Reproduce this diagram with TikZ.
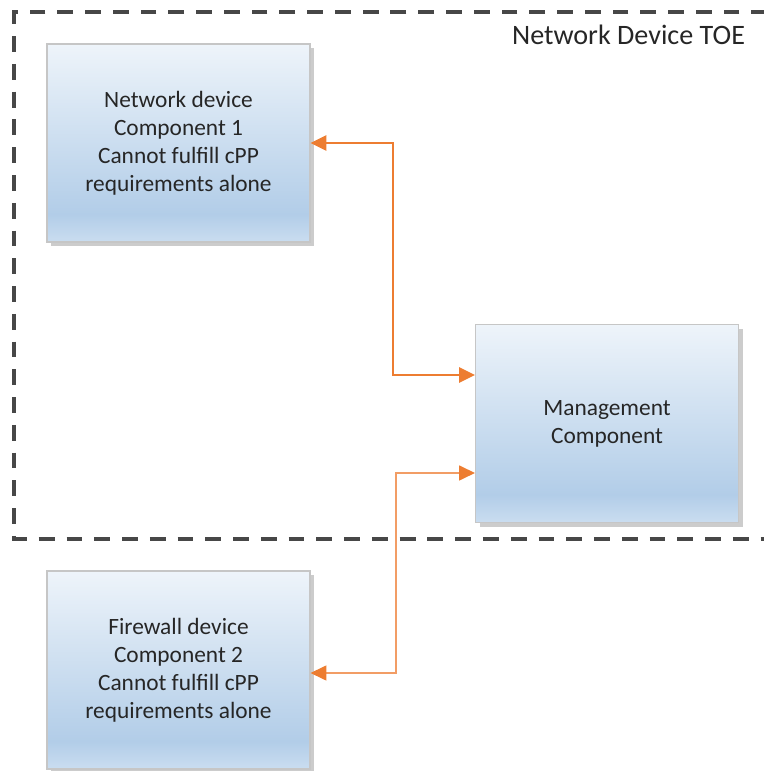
\documentclass[tikz,border=0pt]{standalone}
\usepackage{fontspec}
\setmainfont{Carlito}
\usepackage{tikz}
\usetikzlibrary{arrows.meta, positioning, shadows}
\definecolor{boxtop}{HTML}{EEF4FA}
\definecolor{boxmid}{HTML}{B2CDE8}
\definecolor{boxlow}{HTML}{CADDF0}
\definecolor{linkorange}{HTML}{ED7D31}
\pgfdeclareverticalshading{boxshade}{100bp}{color(0bp)=(boxlow); color(25bp)=(boxlow); color(32bp)=(boxmid); color(75bp)=(boxtop); color(100bp)=(boxtop)}
\tikzset{>={Triangle[length=9pt,width=8.5pt,color=linkorange]}}

\begin{document}
\begin{tikzpicture}[thick,
	comp/.style={draw=gray!45, line width=0.6pt, shading=boxshade, minimum width=5.26cm, minimum height=3.96cm, align=center, text=black!85, font=\fontsize{13.3}{15.9}\selectfont, drop shadow={shadow xshift=2.5pt, shadow yshift=-2.5pt, fill=gray!80, opacity=0.5}},
	toeframe/.style={draw=black!72, line width=2pt, dash pattern=on 9pt off 6.8pt},
	link/.style={<->, draw=linkorange, line width=1.5pt},
	thinlink/.style={<->, draw=linkorange!75, line width=0.8pt}]

	\useasboundingbox (0,0) rectangle (15.26,15.42);
	\draw[toeframe] (15.9,15.18) -| (0.28,4.64) -- (15.9,4.64);
	\node[text=black!85, font=\fontsize{16}{19}\selectfont] (toe) at (12.57,14.72) {Network Device TOE};

	\node[comp]	(net)	at	(3.57,12.56)	{Network device\\Component 1\\Cannot fulfill cPP\\requirements alone};
	\node[comp]	(mgmt)	at	(12.14,6.95)	{Management\\Component};
	\node[comp]	(fw)	at	(3.57,2.02)	{Firewall device\\Component 2\\Cannot fulfill cPP\\requirements alone};

	\coordinate (j1) at (7.86,7.92);
	\coordinate (j2) at (7.92,5.96);
	\coordinate (j3) at (7.92,1.96);
	\draw[link] (net.east) -| (j1) -- (j1 -| mgmt.west);
	\draw[thinlink] (j2 -| mgmt.west) -- (j2) -- (j3) -- (j3 -| fw.east);
\end{tikzpicture}
\end{document}
